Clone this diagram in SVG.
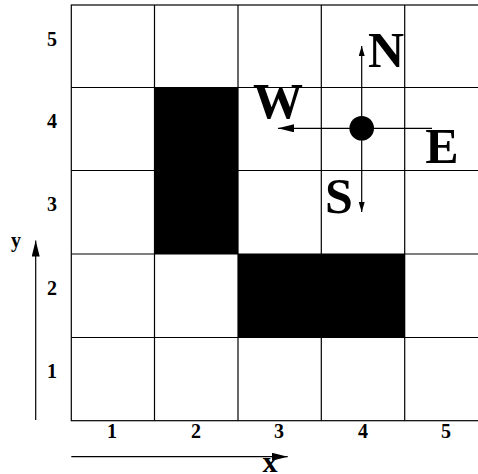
<svg xmlns="http://www.w3.org/2000/svg" width="478" height="474" viewBox="0 0 478 474">
<defs>
<style>
.g{fill:none;stroke:#000;stroke-width:1.2}
.blk{fill:#000}
.lbl{font-family:"Liberation Serif",serif;font-weight:bold;font-size:20px;text-anchor:middle}
.big{font-family:"Liberation Serif",serif;font-weight:bold;font-size:50px;text-anchor:middle}
.ax{stroke:#000;stroke-width:1.2;fill:none}
</style>
<marker id="ah" viewBox="0 0 10 6" refX="10" refY="3" markerWidth="10" markerHeight="6" markerUnits="userSpaceOnUse" orient="auto">
<path d="M0,0 L10,3 L0,6 Z" fill="#000"/>
</marker>
<marker id="ahb" viewBox="0 0 16 8" refX="16" refY="4" markerWidth="16" markerHeight="8" markerUnits="userSpaceOnUse" orient="auto">
<path d="M0,0 L16,4 L0,8 Z" fill="#000"/>
</marker>
</defs>
<rect width="478" height="474" fill="#fff"/>
<g id="obstacles">
<rect class="blk" x="154.5" y="87.5" width="83.5" height="166.5"/>
<rect class="blk" x="238" y="254" width="167" height="83.5"/>
</g>
<g id="grid">
<rect class="g" x="71.3" y="5" width="416.7" height="415.7"/>
<line class="g" x1="154.5" y1="5" x2="154.5" y2="420.7"/>
<line class="g" x1="238" y1="5" x2="238" y2="420.7"/>
<line class="g" x1="321.3" y1="5" x2="321.3" y2="420.7"/>
<line class="g" x1="404.7" y1="5" x2="404.7" y2="420.7"/>
<line class="g" x1="71.3" y1="87.5" x2="488" y2="87.5"/>
<line class="g" x1="71.3" y1="170.5" x2="488" y2="170.5"/>
<line class="g" x1="71.3" y1="254" x2="488" y2="254"/>
<line class="g" x1="71.3" y1="337.5" x2="488" y2="337.5"/>
</g>
<g id="row-labels">
<text class="lbl" x="52" y="46">5</text>
<text class="lbl" x="52" y="128">4</text>
<text class="lbl" x="52" y="211">3</text>
<text class="lbl" x="52" y="295">2</text>
<text class="lbl" x="52" y="378">1</text>
</g>
<g id="col-labels">
<text class="lbl" x="112" y="438">1</text>
<text class="lbl" x="196" y="438">2</text>
<text class="lbl" x="279" y="438">3</text>
<text class="lbl" x="363" y="438">4</text>
<text class="lbl" x="446" y="438">5</text>
</g>
<g id="connectors">
<line class="ax" x1="361.7" y1="128.3" x2="361.7" y2="46" marker-end="url(#ah)"/>
<line class="ax" x1="361.7" y1="128.3" x2="361.7" y2="212" marker-end="url(#ah)"/>
<line class="ax" x1="361.7" y1="128.3" x2="278" y2="128.3" marker-end="url(#ahb)"/>
<line class="ax" x1="361.7" y1="128.3" x2="432" y2="128.3"/>
<line class="ax" x1="35.7" y1="420" x2="35.7" y2="240.5" marker-end="url(#ahb)"/>
<line class="ax" x1="71.3" y1="456.7" x2="287.7" y2="456.7" marker-end="url(#ahb)"/>
</g>
<g id="robot">
<circle cx="361.7" cy="128.3" r="12.3" fill="#000"/>
</g>
<g id="compass-labels">
<text class="big" x="386" y="67">N</text>
<text class="big" x="278" y="118">W</text>
<text class="big" x="339" y="213">S</text>
<text class="big" x="442" y="163">E</text>
</g>
<g id="axis-labels">
<text class="lbl" x="16" y="247">y</text>
<text class="lbl" x="270" y="472" style="font-size:30px">x</text>
</g>
</svg>
